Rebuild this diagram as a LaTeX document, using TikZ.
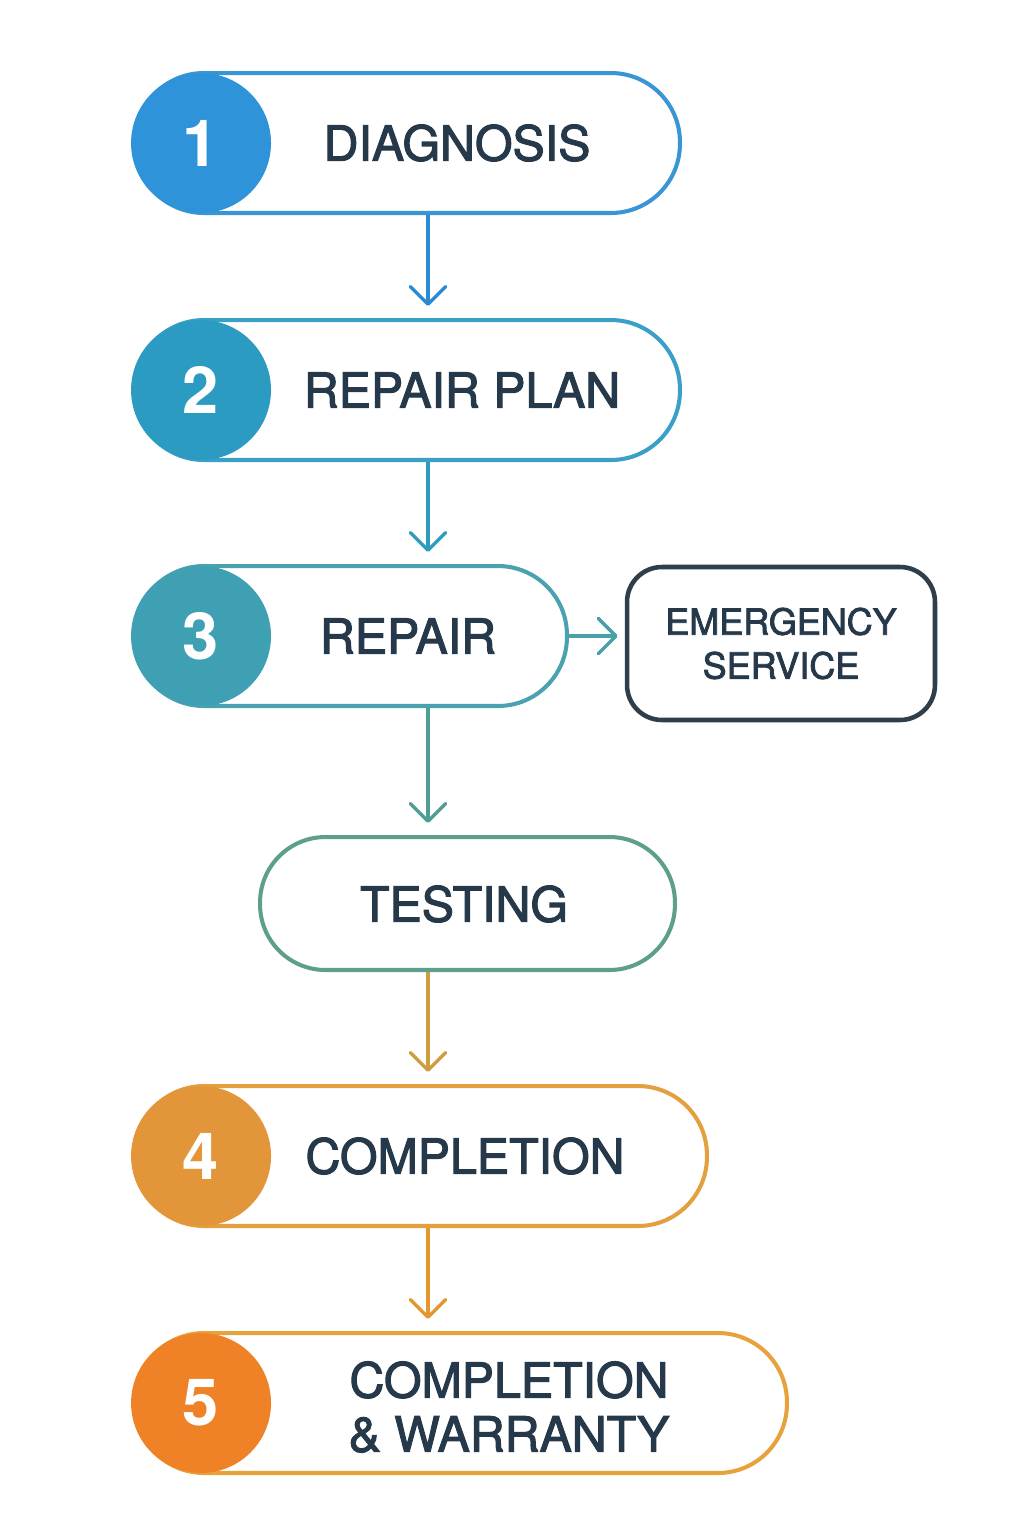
\documentclass[tikz,border=0pt]{standalone}
\usepackage{fontspec}
\setmainfont{TeX Gyre Heros}
\newfontfamily\labelfont{TeX Gyre Heros}[FakeBold=2.2]
\usetikzlibrary{arrows.meta,calc}
\tikzset{>={Straight Barb[length=10pt,width=20pt,line cap=round,line join=round]}}
\definecolor{ink}{HTML}{26394A}
\definecolor{slate}{HTML}{2F3E4B}
\definecolor{cOne}{HTML}{2E93D8}
\definecolor{cTwo}{HTML}{2B9BC2}
\definecolor{cThree}{HTML}{3FA0B3}
\definecolor{cTest}{HTML}{5E9E8C}
\definecolor{cFour}{HTML}{E39539}
\definecolor{cFive}{HTML}{EF8227}
\definecolor{lOne}{HTML}{3A95D5}
\definecolor{lTwo}{HTML}{3AA0C8}
\definecolor{lThree}{HTML}{4AA2B0}
\definecolor{lFour}{HTML}{E4A03E}
\definecolor{lFive}{HTML}{E8A23C}
\definecolor{aOne}{HTML}{2A8AD2}
\definecolor{aTwo}{HTML}{2E9CBE}
\definecolor{aThree}{HTML}{4E9E96}
\definecolor{aSide}{HTML}{4AA0A8}
\definecolor{aTest}{HTML}{CC9E40}
\definecolor{aFour}{HTML}{E3982F}

\begin{document}
\begin{tikzpicture}[x=0.02cm,y=-0.02cm,
  pill/.style={draw=#1,line width=2.3pt,fill=white,rounded corners=1.38cm,
    minimum height=2.8cm,inner sep=0pt},
  badge/.style={circle,fill=#1,minimum size=2.8cm,inner sep=0pt,text=white,
    font=\bfseries\fontsize{37}{37}\selectfont},
  lbl/.style={text=ink,font=\labelfont\fontsize{27.5}{30.7}\selectfont,align=center},
  flow/.style={->,line width=2pt,draw=#1,shorten >=0.24cm}]
\useasboundingbox (0,0) rectangle (1024,1536);
\fill[white] (0,0) rectangle (1024,1536);

\node[pill=lOne,minimum width=10.9cm] (p1) at (407.5,143) {};
\node[badge=cOne] (b1) at ($(p1.west)+(68,0)$) {1};
\node[lbl] (t1) at (457,143) {DIAGNOSIS};

\node[pill=lTwo,minimum width=10.9cm] (p2) at (407.5,390) {};
\node[badge=cTwo] (b2) at ($(p2.west)+(68,0)$) {2};
\node[lbl] (t2) at (462,390) {REPAIR PLAN};

\node[pill=lThree,minimum width=8.64cm] (p3) at (351,636) {};
\node[badge=cThree] (b3) at ($(p3.west)+(68,0)$) {3};
\node[lbl] (t3) at (408,636) {REPAIR};

\node[draw=slate,line width=2.6pt,fill=white,rounded corners=0.7cm,
  minimum width=6.16cm,minimum height=3.06cm,inner sep=0pt,
  text=ink,font=\labelfont\fontsize{20.5}{25}\selectfont,align=center]
  (em) at (781,643.5) {EMERGENCY\\SERVICE};

\node[pill=cTest,minimum width=8.3cm,minimum height=2.66cm,rounded corners=1.31cm]
  (pt) at (467.5,903.5) {};
\node[lbl] (tt) at (464,904) {TESTING};

\node[pill=lFour,minimum width=11.44cm] (p4) at (421,1156) {};
\node[badge=cFour] (b4) at ($(p4.west)+(68,0)$) {4};
\node[lbl] (t4) at (465,1156) {COMPLETION};

\node[pill=lFive,minimum width=13.04cm] (p5) at (461,1403) {};
\node[badge=cFive] (b5) at ($(p5.west)+(68,0)$) {5};
\node[lbl] (t5) at (509,1407) {COMPLETION\\\&\ WARRANTY};

\coordinate (col) at (428,0);
\draw[flow=aOne] (p1.south -| col) -- (p2.north -| col);
\draw[flow=aTwo] (p2.south -| col) -- (p3.north -| col);
\draw[flow=aSide,shorten >=0.14cm] (p3.east) -- (p3.east -| em.west);
\draw[flow=aThree] (p3.south -| col) -- (pt.north -| col);
\draw[flow=aTest] (pt.south -| col) -- (p4.north -| col);
\draw[flow=aFour] (p4.south -| col) -- (p5.north -| col);
\end{tikzpicture}
\end{document}
